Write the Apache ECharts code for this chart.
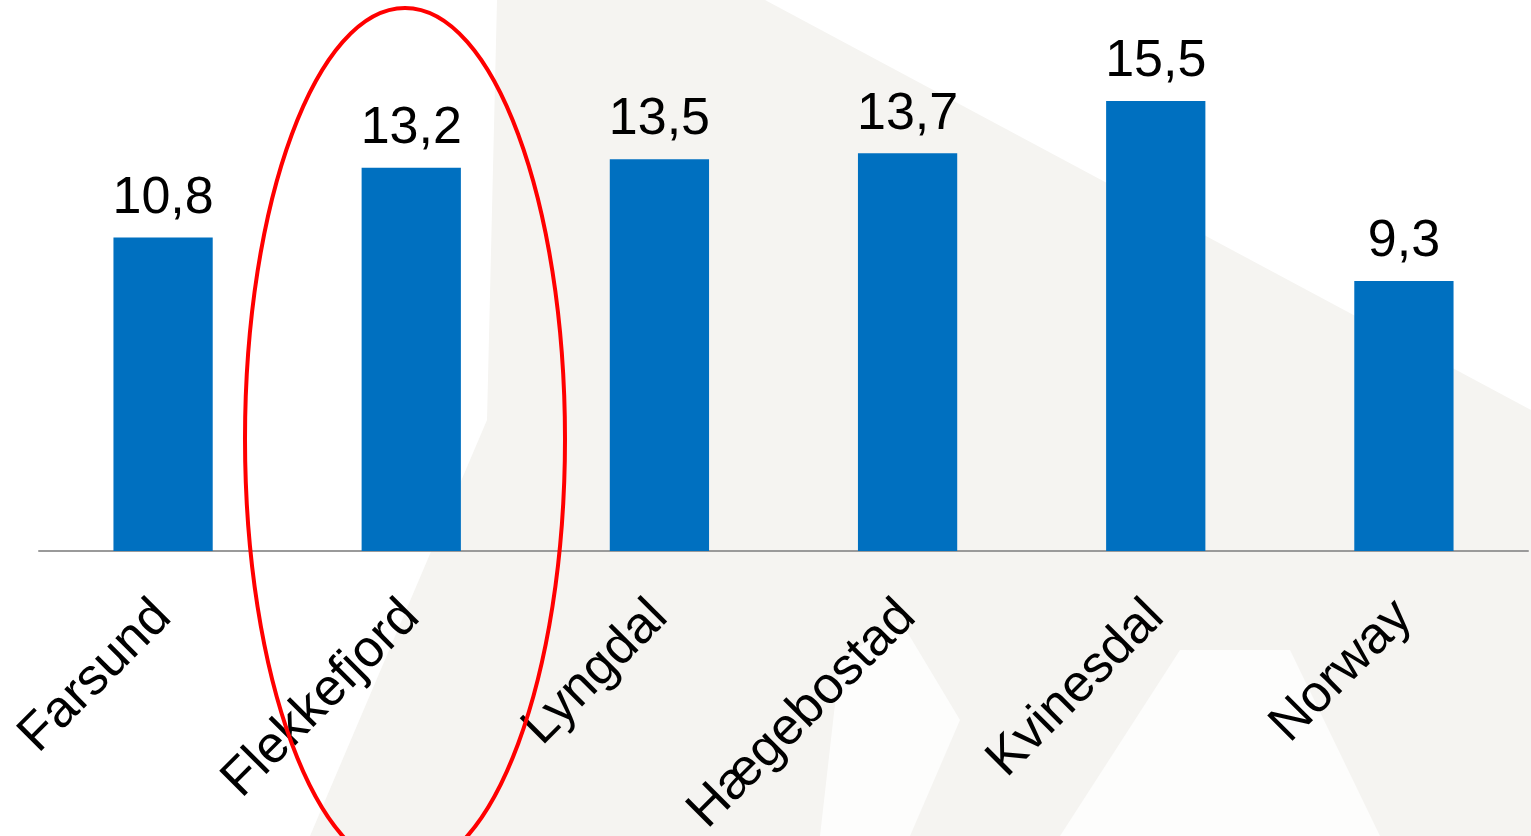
<!DOCTYPE html>
<html>
<head>
<meta charset="utf-8">
<script src="https://cdn.jsdelivr.net/npm/echarts@6/dist/echarts.min.js"></script>
<style>
html,body{margin:0;padding:0;background:#fff;}
#chart{width:1531px;height:836px;}
</style>
</head>
<body>
<div id="chart"></div>
<script>
const categories = ['Farsund', 'Flekkefjord', 'Lyngdal', 'Hægebostad', 'Kvinesdal', 'Norway'];
const values = [10.8, 13.2, 13.5, 13.7, 15.5, 9.3];

const chart = echarts.init(document.getElementById('chart'));
chart.setOption({
  backgroundColor: '#ffffff',
  animation: false,
  grid: { left: 39, right: 3, top: 28.5, bottom: 285, containLabel: false, outerBoundsMode: 'none' },
  xAxis: {
    type: 'category',
    data: categories,
    axisLine: { show: true, lineStyle: { color: '#9a9a9a', width: 2 } },
    axisTick: { show: false },
    axisLabel: {
      rotate: 45,
      margin: 58,
      fontSize: 52,
      fontFamily: 'Liberation Sans, Arial, sans-serif',
      color: '#000000',
      interval: 0
    }
  },
  yAxis: {
    type: 'value',
    min: 0,
    max: 18,
    show: false,
    splitLine: { show: false }
  },
  series: [{
    type: 'bar',
    data: values,
    barWidth: '40%',
    itemStyle: { color: '#0070C0' },
    label: {
      show: true,
      position: 'top',
      distance: 13,
      fontSize: 52,
      fontFamily: 'Liberation Sans, Arial, sans-serif',
      color: '#000000',
      formatter: p => String(p.value).replace('.', ',')
    }
  }],
  graphic: [
    {
      type: 'polygon',
      z: -10,
      silent: true,
      shape: { points: [[497,0],[765,0],[1531,410],[1531,836],[310,836],[487,420]] },
      style: { fill: '#f5f4f1' }
    },
    {
      type: 'polygon',
      z: -9,
      silent: true,
      shape: { points: [[1180,650],[1290,650],[1380,836],[1060,836]] },
      style: { fill: '#ffffff', opacity: 0.8 }
    },
    {
      type: 'polygon',
      z: -9,
      silent: true,
      shape: { points: [[840,660],[900,620],[960,720],[910,836],[820,836]] },
      style: { fill: '#ffffff', opacity: 0.8 }
    },
    {
      type: 'ellipse',
      z: 100,
      silent: true,
      shape: { cx: 405, cy: 439, rx: 160, ry: 431 },
      style: { fill: 'none', stroke: '#ff0000', lineWidth: 4 }
    }
  ]
});
</script>
</body>
</html>
